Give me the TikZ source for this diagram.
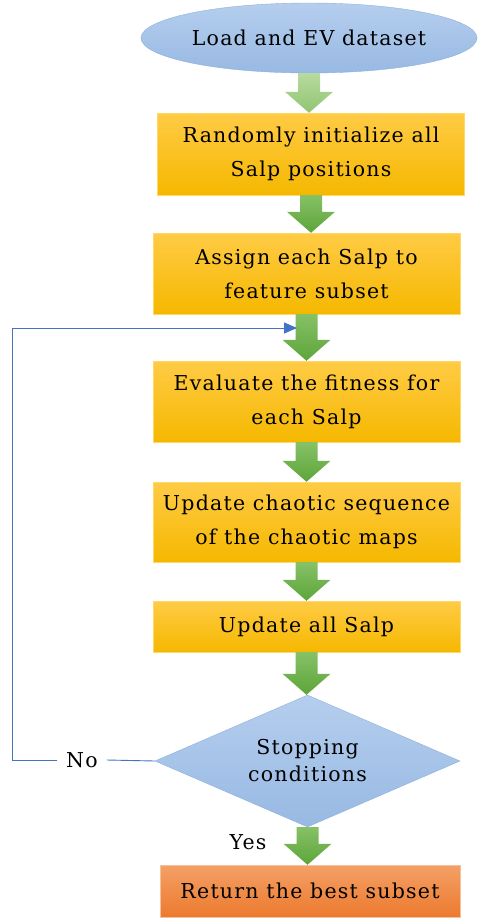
\documentclass[tikz,border=0pt]{standalone}
\usepackage{fontspec}
\setmainfont[LetterSpace=6]{DejaVu Serif}
\usetikzlibrary{shapes.geometric,calc,arrows.meta}
\definecolor{goldtop}{HTML}{FFCB45}
\definecolor{goldbot}{HTML}{F5B800}
\definecolor{goldedge}{HTML}{FFD966}
\definecolor{skytop}{HTML}{B5CEEE}
\definecolor{skybot}{HTML}{98B9E3}
\definecolor{skyedge}{HTML}{8EB0DC}
\definecolor{leaftop}{HTML}{86C166}
\definecolor{leafbot}{HTML}{5DA53A}
\definecolor{paletop}{HTML}{B8DA9F}
\definecolor{palebot}{HTML}{90C571}
\definecolor{rusttop}{HTML}{F4A066}
\definecolor{rustbot}{HTML}{EC7A2E}
\definecolor{rustedge}{HTML}{F6C09A}
\definecolor{loopline}{HTML}{4472C4}

% block arrow from the bottom of one node to the top of the next
\newcommand{\blockarrow}[3][greenarrow]{%
  \path[#1] let \p1=(#2.south), \p2=(#3.north) in
    (\x1-11pt,\y1) -- (\x1+11pt,\y1) -- (\x1+11pt,\y2+21pt)
    -- (\x1+24pt,\y2+21pt) -- (\x1,\y2) -- (\x1-24pt,\y2+21pt)
    -- (\x1-11pt,\y2+21pt) -- cycle;}

\begin{document}
\begin{tikzpicture}[
    x=1pt,y=-1pt,
    font=\fontsize{20.5}{34}\selectfont,
    stepbox/.style={rectangle,draw=goldedge,top color=goldtop,bottom color=goldbot,
      minimum width=307pt,inner sep=0pt,align=center},
    startnode/.style={ellipse,draw=skyedge,top color=skytop,bottom color=skybot,
      minimum width=336pt,minimum height=70pt,inner sep=0pt},
    decision/.style={diamond,draw=skyedge,top color=skytop,bottom color=skybot,
      shape aspect=2.31,minimum width=305pt,minimum height=132pt,inner sep=0pt,
      align=center},
    endbox/.style={rectangle,draw=rustedge,top color=rusttop,bottom color=rustbot,
      minimum width=300pt,minimum height=52pt,inner sep=0pt},
    greenarrow/.style={top color=leaftop,bottom color=leafbot},
    palearrow/.style={top color=paletop,bottom color=palebot},
    fb/.style={draw=loopline,line width=0.9pt}
  ]
  \useasboundingbox (0,0) rectangle (477,918);

  \node[startnode] (load) at (309,38) {Load and EV dataset};
  \node[stepbox,minimum height=82pt] (init) at (311,154)
    {Randomly initialize all\\Salp positions};
  \node[stepbox,minimum height=81pt] (assign) at (306.5,273.5)
    {Assign each Salp to\\feature subset};
  \node[stepbox,minimum height=81pt] (fit) at (306.5,401.5)
    {Evaluate the fitness for\\each Salp};
  \node[stepbox,minimum height=80pt] (chaos) at (306.5,522)
    {Update chaotic sequence\\of the chaotic maps};
  \node[stepbox,minimum height=51pt] (move) at (306.5,626.5) {Update all Salp};
  \node[decision,font=\fontsize{20.5}{27}\selectfont] (stop) at (307.5,761)
    {Stopping\\conditions};
  \node[endbox] (best) at (310,891) {Return the best subset};

  \blockarrow[palearrow]{load}{init}
  \blockarrow{init}{assign}
  \blockarrow{assign}{fit}
  \blockarrow{fit}{chaos}
  \blockarrow{chaos}{move}
  \blockarrow{move}{stop}
  \blockarrow{stop}{best}

  % loop back when the stop test fails
  \node[inner xsep=9pt] (no) at (82,760) {No};
  \node (yes) at (248,842) {Yes};
  \coordinate (corner) at (12,760);
  \coordinate (back) at (297,328);
  \draw[fb] (stop.west) -- (no.east);
  \draw[fb,-{Triangle[length=13pt,width=11pt]}] (no.west) -- (corner) |- (back);
\end{tikzpicture}
\end{document}
